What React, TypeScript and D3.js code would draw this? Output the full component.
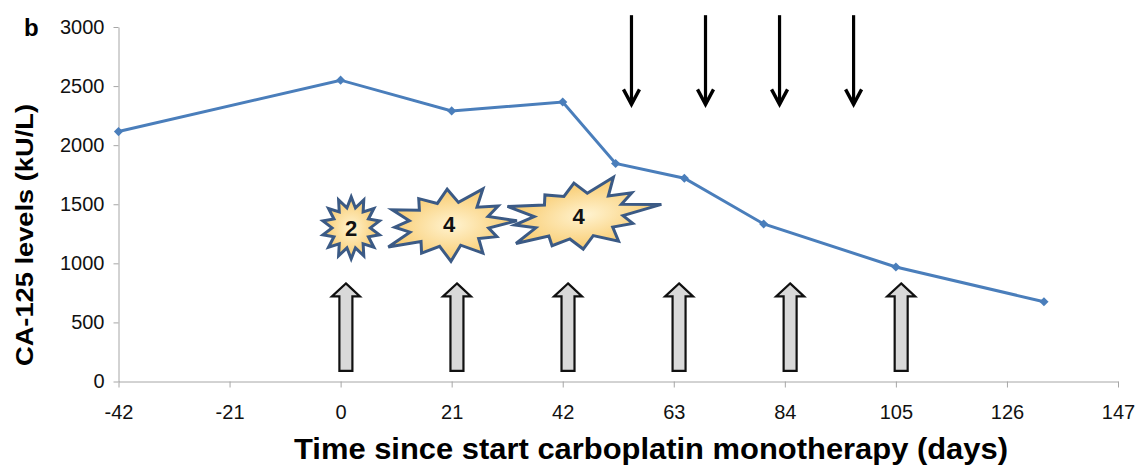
import { useEffect, useRef } from "react";
import * as d3 from "d3";

// CA-125 measurements
const days = [-42, 0, 21, 42, 52, 65, 80, 105, 133];
const ca125 = [2115, 2550, 2290, 2365, 1845, 1720, 1333, 969, 675];

const xTicks = [-42, -21, 0, 21, 42, 63, 84, 105, 126, 147];
const yTicks = [0, 500, 1000, 1500, 2000, 2500, 3000];

// annotations
const carboplatinDays = [1, 22, 43, 64, 85, 106];
const otherDoseDays = [55, 69, 83, 97];
const toxicityGrades = ["2", "4", "4"];
const toxicityDays = [2, 20.5, 45];
const toxicityLevels = [1300, 1330, 1400];

const App = () => {
  const chartContainer = useRef<SVGSVGElement | null>(null);

  useEffect(() => {
    const width = 1146;
    const height = 469;

    const x = d3.scaleLinear().domain([-42, 147]).range([118.5, 1118]);
    const y = d3.scaleLinear().domain([0, 3000]).range([381.5, 27]);

    const svg = d3.select(chartContainer.current);
    svg.selectAll("*").remove();
    svg.attr("width", width).attr("height", height);

    const defs = svg.append("defs");
    const grad = defs
      .append("radialGradient")
      .attr("id", "burst")
      .attr("cx", "50%")
      .attr("cy", "50%")
      .attr("r", "55%");
    grad.append("stop").attr("offset", "0%").attr("stop-color", "#fff3d0");
    grad.append("stop").attr("offset", "100%").attr("stop-color", "#f8c765");

    const plain = (d: d3.NumberValue) => String(d);

    // y axis
    const yAxis = svg
      .append("g")
      .attr("transform", `translate(${x(-42)},0)`)
      .call(
        d3
          .axisLeft(y)
          .tickValues(yTicks)
          .tickFormat(plain)
          .tickSize(5)
          .tickSizeOuter(0)
          .tickPadding(9)
      );
    yAxis.selectAll("path, line").attr("stroke", "#a6a6a6");
    yAxis
      .selectAll("text")
      .attr("font-family", "'Liberation Sans', Arial, sans-serif")
      .attr("font-size", 20)
      .attr("fill", "#111");

    // x axis
    const xAxis = svg
      .append("g")
      .attr("transform", `translate(0,${y(0)})`)
      .call(
        d3
          .axisBottom(x)
          .tickValues(xTicks)
          .tickFormat(plain)
          .tickSize(6)
          .tickSizeOuter(0)
          .tickPadding(17)
      );
    xAxis.selectAll("path, line").attr("stroke", "#a6a6a6");
    xAxis
      .selectAll("text")
      .attr("font-family", "'Liberation Sans', Arial, sans-serif")
      .attr("font-size", 20)
      .attr("fill", "#111");

    // grey up arrows (carboplatin)
    const upArrow = (cx: number) => {
      const top = y(830);
      const bottom = y(90);
      const head = 13;
      const hw = 14;
      const sw = 6.5;
      return `M${cx},${top} L${cx + hw},${top + head} L${cx + sw},${top + head} L${cx + sw},${bottom} L${cx - sw},${bottom} L${cx - sw},${top + head} L${cx - hw},${top + head} Z`;
    };
    svg
      .selectAll(".up")
      .data(carboplatinDays)
      .enter()
      .append("path")
      .attr("class", "up")
      .attr("d", (d) => upArrow(x(d)))
      .attr("fill", "#d9d9d9")
      .attr("stroke", "#111")
      .attr("stroke-width", 2.2)
      .attr("stroke-linejoin", "miter");

    // black down arrows
    const down = svg
      .selectAll(".down")
      .data(otherDoseDays)
      .enter()
      .append("g")
      .attr("class", "down");
    down
      .append("line")
      .attr("x1", (d) => x(d))
      .attr("x2", (d) => x(d))
      .attr("y1", y(3100))
      .attr("y2", y(2345))
      .attr("stroke", "#000")
      .attr("stroke-width", 3.2);
    down
      .append("path")
      .attr(
        "d",
        (d) =>
          `M${x(d) - 8},${y(2345) - 15} L${x(d)},${y(2345)} L${x(d) + 8},${y(2345) - 15}`
      )
      .attr("fill", "none")
      .attr("stroke", "#000")
      .attr("stroke-width", 3.4);

    // starbursts
    const starPath = (
      n: number,
      rx: number,
      ry: number,
      inner: number,
      factors: number[]
    ) => {
      const pts: [number, number][] = [];
      for (let i = 0; i < 2 * n; i++) {
        const a = -Math.PI / 2 + (i * Math.PI) / n;
        const r = i % 2 === 0 ? factors[(i / 2) % factors.length] : inner;
        pts.push([Math.cos(a) * rx * r, Math.sin(a) * ry * r]);
      }
      return d3.line().curve(d3.curveLinearClosed)(pts) || "";
    };
    const bursts = [
      { n: 14, rx: 29, ry: 31, inner: 0.66, f: [1], rot: 0 },
      {
        n: 12,
        rx: 68,
        ry: 37,
        inner: 0.6,
        f: [0.95, 1.05, 0.85, 1.0, 0.8, 0.95, 1.0, 0.85, 1.05, 0.8, 0.95, 0.85],
        rot: -3,
      },
      {
        n: 12,
        rx: 76,
        ry: 37,
        inner: 0.6,
        f: [0.9, 1.05, 0.85, 1.1, 0.8, 0.95, 0.9, 0.8, 1.0, 0.85, 1.05, 0.8],
        rot: -8,
      },
    ];
    const burst = svg
      .selectAll(".burst")
      .data(toxicityGrades)
      .enter()
      .append("g")
      .attr("class", "burst")
      .attr(
        "transform",
        (_d, i) =>
          `translate(${x(toxicityDays[i])},${y(toxicityLevels[i])}) rotate(${bursts[i].rot})`
      );
    burst
      .append("path")
      .attr("d", (_d, i) => {
        const b = bursts[i];
        return starPath(b.n, b.rx, b.ry, b.inner, b.f);
      })
      .attr("fill", "url(#burst)")
      .attr("stroke", "#3b5a85")
      .attr("stroke-width", 3)
      .attr("stroke-linejoin", "miter");
    burst
      .append("text")
      .attr("text-anchor", "middle")
      .attr("dy", "0.36em")
      .attr("transform", (_d, i) => `rotate(${-bursts[i].rot})`)
      .attr("font-family", "'Liberation Sans', Arial, sans-serif")
      .attr("font-weight", "bold")
      .attr("font-size", 22)
      .attr("fill", "#111")
      .text((d) => d);

    // CA-125 line
    const pts = days.map((d, i) => [x(d), y(ca125[i])] as [number, number]);
    svg
      .append("path")
      .attr("d", d3.line()(pts) || "")
      .attr("fill", "none")
      .attr("stroke", "#4a7ebb")
      .attr("stroke-width", 3);
    svg
      .selectAll(".marker")
      .data(pts)
      .enter()
      .append("path")
      .attr("class", "marker")
      .attr("d", d3.symbol().type(d3.symbolSquare).size(42)())
      .attr("transform", (d) => `translate(${d[0]},${d[1]}) rotate(45)`)
      .attr("fill", "#4a7ebb");

    // titles
    svg
      .append("text")
      .attr("transform", "translate(33,235) rotate(-90)")
      .attr("text-anchor", "middle")
      .attr("font-family", "'Liberation Sans', Arial, sans-serif")
      .attr("font-weight", "bold")
      .attr("font-size", 24)
      .attr("textLength", 262)
      .attr("lengthAdjust", "spacingAndGlyphs")
      .text("CA-125 levels (kU/L)");

    svg
      .append("text")
      .attr("x", 651)
      .attr("y", 459)
      .attr("text-anchor", "middle")
      .attr("font-family", "'Liberation Sans', Arial, sans-serif")
      .attr("font-weight", "bold")
      .attr("font-size", 30)
      .attr("textLength", 714)
      .attr("lengthAdjust", "spacingAndGlyphs")
      .text("Time since start carboplatin monotherapy (days)");

    svg
      .append("text")
      .attr("x", 24)
      .attr("y", 36)
      .attr("font-family", "'Liberation Sans', Arial, sans-serif")
      .attr("font-weight", "bold")
      .attr("font-size", 24)
      .text("b");
  }, []);

  return (
    <svg
      ref={chartContainer}
      style={{ position: "absolute", left: 0, top: 0, display: "block", background: "#fff" }}
    ></svg>
  );
};

export default App;
